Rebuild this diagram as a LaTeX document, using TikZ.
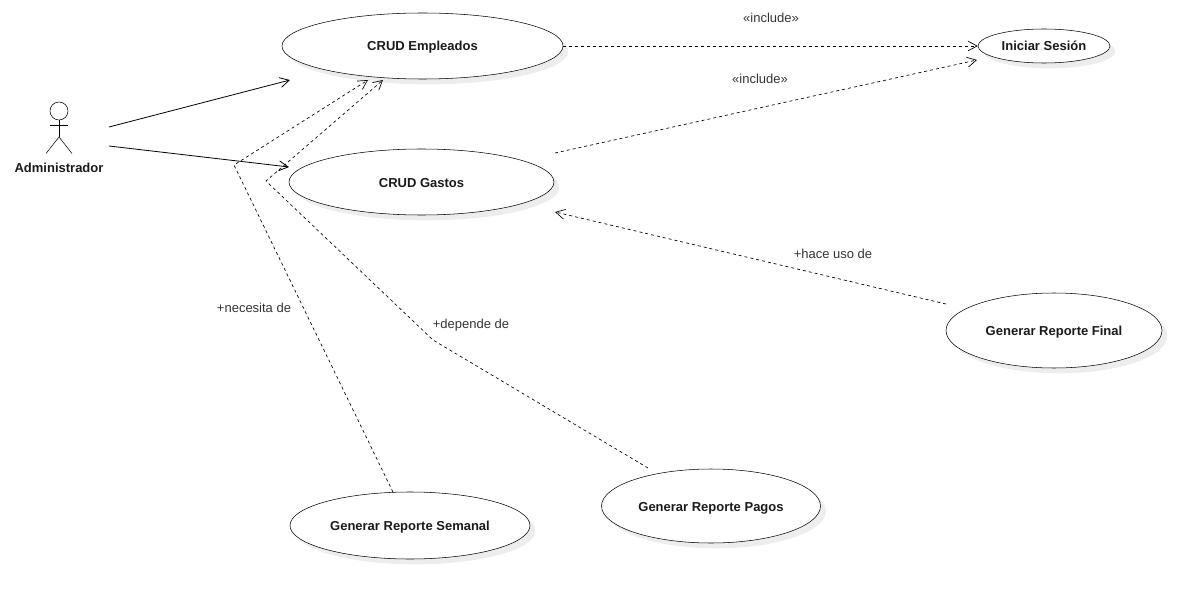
\documentclass[tikz,border=0pt]{standalone}
\usepackage{fontspec}
\setmainfont{Liberation Sans}
\usetikzlibrary{arrows.meta,shapes.geometric,shadows}
\tikzset{>={Straight Barb[length=2.4mm,width=2.6mm]}}
\definecolor{InkGrey}{HTML}{1A1A1A}
\definecolor{LabelGrey}{HTML}{333333}
\tikzset{
  UseCase/.style={
      ellipse, draw=black, fill=white, inner sep=0pt,
      font=\bfseries\fontsize{9.75}{11}\selectfont, text=InkGrey,
      text height=8.5pt, text depth=1pt,
      drop shadow={shadow xshift=4pt, shadow yshift=-4pt, fill=black, opacity=0.07}
    },
  EdgeLabel/.style={font=\fontsize{9.75}{11}\selectfont, text=LabelGrey},
  Assoc/.style={->, line width=0.6pt},
  Dep/.style={->, dash pattern=on 2.25pt off 2.25pt, line width=0.5pt}
}

\begin{document}
\begin{tikzpicture}[x=0.75pt,y=-0.75pt]
  \useasboundingbox (0,0) rectangle (1202,599);

  \node[UseCase, minimum width=210.75pt, minimum height=49.5pt] (Empleados) at (422.5,46) {CRUD Empleados};
  \node[UseCase, minimum width=198.75pt, minimum height=49.5pt] (Gastos) at (421.5,182) {CRUD Gastos};
  \node[UseCase, minimum width=99pt, minimum height=25.5pt] (Sesion) at (1044,46) {Iniciar Sesión};
  \node[UseCase, minimum width=162pt, minimum height=56.25pt] (Final) at (1054,330.5) {Generar Reporte Final};
  \node[UseCase, minimum width=164.25pt, minimum height=55.5pt] (Pagos) at (711,506) {Generar Reporte Pagos};
  \node[UseCase, minimum width=180pt, minimum height=50.25pt] (Semanal) at (410,525.5) {Generar Reporte Semanal};

  % actor
  \node[circle, draw=black, fill=white, inner sep=0pt, minimum size=13.5pt] (Head) at (59,111) {};
  \coordinate (Hip) at (59,137);
  \draw (Head.south) -- (Hip);
  \draw (50,125.7) -- (68,125.7);
  \draw (46,153.5) -- (Hip) -- (72,153.5);
  \node[font=\bfseries\fontsize{9.75}{11}\selectfont, text=InkGrey] (Admin) at (59,167.5) {Administrador};

  % free ends
  \coordinate (AdminA) at (109,127);
  \coordinate (AdminB) at (109,146);
  \coordinate (EmpA) at (290,80);
  \coordinate (GasA) at (289,167);
  \coordinate (EmpB) at (368,80);
  \coordinate (EmpC) at (383,80);
  \coordinate (BendA) at (234,165);
  \coordinate (BendB) at (266,181);
  \coordinate (BendC) at (433,340);
  \coordinate (PagosEnd) at (648,468);
  \coordinate (GasOut) at (555,153);
  \coordinate (SesIn) at (977,60);
  \coordinate (FinalEnd) at (946,304);
  \coordinate (GasIn) at (555,212);

  \draw[Assoc] (AdminA) -- (EmpA);
  \draw[Assoc] (AdminB) -- (GasA);
  \draw[Dep] (Empleados.east) -- (Sesion.west);
  \draw[Dep] (GasOut) -- (SesIn);
  \draw[Dep] (FinalEnd) -- (GasIn);
  \draw[Dep] (Semanal.117) -- (BendA) -- (EmpB);
  \draw[Dep] (PagosEnd) -- (BendC) -- (BendB) -- (EmpC);

  \node[EdgeLabel] (IncA) at (771,18) {«include»};
  \node[EdgeLabel] (IncB) at (760,79) {«include»};
  \node[EdgeLabel] (Hace) at (833,254) {+hace uso de};
  \node[EdgeLabel] (Depende) at (471,325) {+depende de};
  \node[EdgeLabel] (Necesita) at (254,308) {+necesita de};
\end{tikzpicture}
\end{document}
